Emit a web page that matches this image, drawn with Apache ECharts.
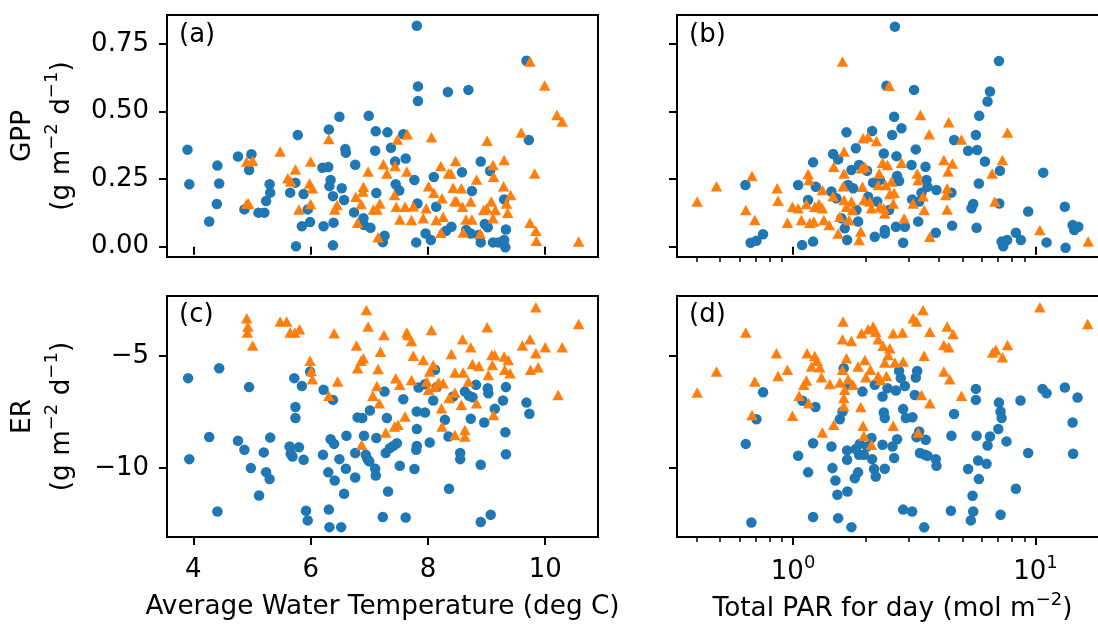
<!DOCTYPE html>
<html>
<head>
<meta charset="utf-8">
<script src="https://cdn.jsdelivr.net/npm/echarts@6/dist/echarts.min.js"></script>
<style>
html, body { margin: 0; padding: 0; background: #fff; }
#chart { width: 1098px; height: 627px; }
</style>
</head>
<body>
<div id="chart"></div>
<script>
// ---- data: [x, y] pairs per panel and group ----
// (a) GPP vs average water temperature
const tempGppBlue = [[3.90,0.359],[3.93,0.231],[4.27,0.093],[4.40,0.158],[4.41,0.300],[4.44,0.234],[4.76,0.334],[4.87,0.138],[4.95,0.284],[4.99,0.342],[5.11,0.126],[5.21,0.126],[5.24,0.169],[5.31,0.200],[5.30,0.231],[5.65,0.200],[5.74,0.237],[5.78,0.413],[5.75,0.002],[5.85,0.076],[5.88,0.195],[5.95,0.138],[5.99,0.091],[6.20,0.292],[6.30,0.295],[6.31,0.434],[6.34,0.247],[6.32,0.224],[6.38,0.187],[6.39,0.089],[6.22,0.076],[6.38,0.005],[6.49,0.481],[6.53,0.216],[6.57,0.173],[6.60,0.348],[6.59,0.361],[6.76,0.303],[6.74,0.127],[6.90,0.105],[6.91,0.080],[6.99,0.484],[7.02,0.070],[7.11,0.427],[7.10,0.355],[7.12,0.199],[7.23,0.017],[7.26,0.041],[7.31,0.423],[7.37,0.366],[7.44,0.315],[7.45,0.231],[7.51,0.208],[7.58,0.416],[7.62,0.326],[7.77,0.247],[7.80,0.016],[7.81,0.817],[7.83,0.593],[7.83,0.539],[7.82,0.160],[7.96,0.049],[8.05,0.025],[8.10,0.258],[8.14,0.148],[8.34,0.572],[8.31,0.059],[8.40,0.074],[8.58,0.275],[8.69,0.580],[8.75,0.206],[8.73,0.049],[8.90,0.315],[8.90,0.016],[8.97,0.084],[9.02,0.072],[9.06,0.280],[9.11,0.016],[9.20,0.016],[9.30,0.025],[9.33,0.064],[9.32,-0.002],[9.30,0.175],[9.68,0.688],[9.72,0.395],[8.65,0.062],[8.86,0.043]];
const tempGppOrange = [[4.91,0.315],[5.01,0.318],[4.91,0.160],[4.94,0.160],[5.48,0.352],[5.61,0.253],[5.66,0.241],[5.74,0.286],[5.80,0.138],[5.98,0.234],[6.00,0.315],[6.03,0.216],[6.00,0.158],[6.31,0.398],[6.41,0.138],[6.45,0.154],[6.77,0.185],[6.80,0.089],[6.86,0.158],[6.90,0.222],[6.98,0.278],[7.07,0.138],[7.15,0.035],[7.18,0.160],[7.24,0.305],[7.30,0.271],[7.44,0.299],[7.43,0.191],[7.48,0.397],[7.46,0.148],[7.52,0.101],[7.65,0.416],[7.64,0.278],[7.61,0.148],[7.72,0.099],[7.75,0.150],[7.92,0.105],[7.97,0.142],[8.01,0.224],[8.06,0.405],[8.10,0.200],[8.14,0.099],[8.22,0.052],[8.22,0.299],[8.24,0.179],[8.26,0.111],[8.35,0.271],[8.39,0.271],[8.43,0.218],[8.47,0.317],[8.46,0.169],[8.57,0.216],[8.59,0.148],[8.60,0.053],[8.65,0.101],[8.73,0.167],[8.75,0.101],[8.83,0.249],[8.89,0.049],[9.01,0.392],[9.00,0.142],[9.08,0.167],[9.11,0.302],[9.12,0.259],[9.11,0.105],[9.15,0.136],[9.30,0.321],[9.29,0.224],[9.34,0.160],[9.36,0.126],[9.41,0.191],[9.59,0.422],[9.74,0.685],[9.74,0.089],[9.82,0.271],[9.84,0.059],[9.85,0.022],[9.99,0.596],[10.20,0.487],[10.29,0.463],[10.57,0.019],[6.89,0.204],[7.13,0.138],[8.49,0.167],[8.95,0.136]];

// (b) GPP vs total daily PAR
const parGppBlue = [[0.636,0.228],[0.668,0.015],[0.706,0.022],[0.752,0.046],[1.049,0.228],[1.089,0.006],[1.153,0.173],[1.209,0.312],[1.209,0.019],[1.240,0.222],[1.439,0.204],[1.462,0.343],[1.509,0.179],[1.534,0.323],[1.582,0.105],[1.633,0.068],[1.660,0.423],[1.670,0.025],[1.686,0.228],[1.740,0.284],[1.769,0.216],[1.814,0.364],[1.825,0.136],[1.854,0.093],[1.872,0.302],[2.019,0.281],[2.039,0.185],[2.118,0.428],[2.138,0.237],[2.172,0.037],[2.222,0.167],[2.279,0.247],[2.366,0.345],[2.388,0.062],[2.388,0.049],[2.427,0.595],[2.489,0.136],[2.562,0.413],[2.630,0.814],[2.611,0.481],[2.668,0.335],[2.685,0.262],[2.736,0.243],[2.655,0.074],[2.800,0.438],[2.844,0.015],[2.891,0.074],[3.080,0.302],[3.097,0.175],[3.155,0.580],[3.206,0.360],[3.281,0.093],[3.311,0.167],[3.386,0.200],[3.517,0.296],[3.550,0.247],[3.583,0.222],[3.877,0.052],[3.902,0.210],[4.498,0.200],[4.529,0.078],[4.614,0.395],[5.271,0.355],[5.444,0.142],[5.532,0.158],[5.675,0.413],[5.714,0.070],[5.745,0.358],[5.838,0.234],[5.857,0.484],[6.182,0.315],[6.339,0.537],[6.486,0.574],[7.063,0.687],[7.128,0.281],[7.085,0.160],[7.244,0.019],[7.359,0.002],[7.638,0.025],[8.297,0.052],[8.697,0.025],[9.325,0.130],[10.76,0.274],[11.10,0.016],[13.21,0.148],[13.30,-0.004],[14.22,0.080],[14.44,0.062],[15.01,0.074]];
const parGppOrange = [[0.402,0.167],[0.483,0.224],[0.638,0.136],[0.677,0.262],[0.695,0.099],[0.859,0.216],[0.867,0.170],[0.948,0.089],[0.994,0.148],[1.049,0.142],[1.082,0.099],[1.135,0.158],[1.153,0.269],[1.164,0.247],[1.172,0.089],[1.217,0.093],[1.228,0.148],[1.279,0.158],[1.321,0.210],[1.321,0.142],[1.339,0.099],[1.409,0.080],[1.472,0.296],[1.534,0.049],[1.559,0.111],[1.599,0.685],[1.608,0.224],[1.623,0.352],[1.623,0.271],[1.623,0.173],[1.660,0.148],[1.703,0.099],[1.758,0.136],[1.872,0.025],[1.902,0.056],[1.916,0.290],[1.933,0.222],[1.945,0.401],[1.959,0.173],[1.977,0.296],[2.039,0.407],[2.072,0.167],[2.105,0.142],[2.208,0.391],[2.244,0.228],[2.265,0.271],[2.279,0.148],[2.338,0.311],[2.366,0.142],[2.388,0.123],[2.412,0.228],[2.451,0.302],[2.489,0.595],[2.506,0.195],[2.547,0.241],[2.588,0.160],[2.611,0.200],[2.800,0.311],[2.871,0.105],[3.127,0.160],[3.250,0.271],[3.281,0.247],[3.352,0.487],[3.436,0.187],[3.472,0.136],[3.642,0.416],[3.664,0.037],[4.187,0.321],[4.266,0.191],[4.319,0.216],[4.319,0.138],[4.358,0.278],[4.386,0.460],[4.543,0.308],[4.950,0.397],[6.622,0.271],[6.795,0.167],[7.305,0.321],[7.660,0.422],[10.42,0.062],[16.49,0.019],[1.462,0.187],[1.740,0.167]];

// (c) ER vs average water temperature
const tempErBlue = [[3.91,-5.99],[3.93,-9.60],[4.27,-8.61],[4.41,-11.93],[4.44,-5.55],[4.76,-8.78],[4.87,-9.18],[4.95,-6.39],[4.98,-10.00],[5.12,-11.22],[5.20,-9.30],[5.24,-10.18],[5.30,-10.49],[5.31,-8.64],[5.64,-9.04],[5.66,-9.36],[5.69,-9.48],[5.72,-5.99],[5.74,-7.28],[5.74,-7.77],[5.80,-9.07],[5.85,-6.34],[5.88,-9.63],[5.92,-11.90],[5.95,-12.33],[5.99,-5.70],[6.21,-9.41],[6.22,-6.51],[6.30,-10.19],[6.31,-11.85],[6.32,-12.63],[6.34,-8.71],[6.38,-6.96],[6.40,-8.92],[6.41,-10.55],[6.49,-9.60],[6.52,-12.63],[6.57,-11.14],[6.60,-10.03],[6.61,-8.56],[6.76,-9.33],[6.76,-10.42],[6.80,-7.74],[6.88,-7.77],[6.91,-8.56],[6.94,-9.41],[6.97,-9.60],[7.00,-9.70],[7.01,-7.43],[7.10,-10.03],[7.11,-10.33],[7.12,-8.66],[7.23,-12.18],[7.26,-6.59],[7.30,-7.77],[7.28,-9.33],[7.32,-11.04],[7.35,-9.11],[7.41,-9.01],[7.47,-8.89],[7.52,-9.90],[7.58,-6.93],[7.62,-12.20],[7.77,-10.04],[7.80,-9.18],[7.81,-9.01],[7.81,-8.26],[7.81,-7.48],[7.84,-6.41],[7.95,-7.52],[8.03,-8.86],[8.09,-6.99],[8.12,-5.62],[8.15,-6.39],[8.29,-7.85],[8.35,-8.59],[8.36,-10.92],[8.43,-6.81],[8.55,-9.33],[8.55,-9.60],[8.63,-6.59],[8.70,-6.78],[8.73,-7.80],[8.76,-6.84],[8.82,-6.29],[8.90,-12.40],[8.90,-9.85],[8.96,-7.97],[9.02,-6.44],[9.03,-6.66],[9.07,-12.08],[9.14,-7.36],[9.28,-6.99],[9.33,-6.39],[9.32,-8.40],[9.33,-9.38],[9.68,-7.08],[9.73,-7.58],[7.95,-6.26]];
const tempErOrange = [[4.91,-3.32],[4.93,-3.69],[4.92,-3.96],[5.01,-4.54],[5.48,-3.47],[5.59,-3.47],[5.65,-3.96],[5.73,-3.96],[5.81,-3.81],[5.99,-5.21],[6.01,-5.67],[6.03,-6.04],[6.31,-6.78],[6.40,-3.99],[6.46,-6.14],[6.78,-4.54],[6.80,-5.55],[6.86,-5.21],[6.90,-5.10],[6.95,-2.95],[6.98,-3.69],[6.87,-8.96],[7.06,-6.78],[7.13,-6.34],[7.15,-5.58],[7.17,-7.11],[7.19,-4.81],[7.25,-4.07],[7.28,-8.41],[7.43,-8.15],[7.45,-5.99],[7.49,-8.07],[7.52,-6.29],[7.61,-7.70],[7.64,-3.96],[7.66,-4.07],[7.72,-4.33],[7.72,-6.07],[7.75,-4.99],[7.92,-5.18],[7.98,-6.14],[8.01,-6.51],[8.03,-5.70],[8.06,-3.84],[8.09,-5.40],[8.12,-6.37],[8.18,-6.19],[8.23,-7.33],[8.24,-8.15],[8.26,-6.22],[8.36,-6.88],[8.40,-4.91],[8.46,-5.74],[8.46,-6.63],[8.46,-8.52],[8.57,-7.18],[8.59,-4.26],[8.60,-5.74],[8.63,-8.30],[8.63,-8.59],[8.69,-6.14],[8.73,-4.61],[8.76,-5.36],[8.83,-7.11],[8.87,-5.45],[9.01,-3.72],[9.03,-5.85],[9.09,-4.96],[9.10,-5.40],[9.12,-7.63],[9.14,-4.96],[9.30,-5.03],[9.31,-5.62],[9.37,-5.18],[9.40,-5.77],[9.61,-4.54],[9.74,-4.26],[9.75,-5.62],[9.84,-2.83],[9.84,-4.88],[9.88,-5.50],[10.00,-4.61],[10.22,-6.74],[10.29,-4.61],[10.57,-3.58]];

// (d) ER vs total daily PAR
const parErBlue = [[0.638,-8.92],[0.673,-12.42],[0.706,-7.82],[0.752,-6.62],[1.049,-9.45],[1.093,-7.00],[1.153,-10.19],[1.209,-8.89],[1.209,-12.18],[1.236,-7.28],[1.439,-9.04],[1.453,-10.00],[1.495,-10.55],[1.523,-11.19],[1.534,-12.23],[1.559,-7.82],[1.599,-7.48],[1.618,-5.55],[1.670,-9.21],[1.670,-9.63],[1.675,-11.04],[1.703,-6.29],[1.740,-12.63],[1.796,-10.45],[1.814,-9.15],[1.854,-10.19],[1.872,-9.41],[1.884,-8.92],[1.933,-6.59],[1.959,-9.41],[2.019,-9.04],[2.105,-8.66],[2.118,-9.60],[2.158,-10.04],[2.172,-6.29],[2.193,-10.37],[2.338,-6.81],[2.338,-8.96],[2.366,-7.52],[2.388,-7.77],[2.388,-10.03],[2.451,-6.44],[2.570,-9.04],[2.611,-9.55],[2.655,-6.54],[2.685,-8.71],[2.736,-5.67],[2.780,-5.99],[2.844,-7.37],[2.844,-11.85],[2.891,-6.34],[2.918,-7.77],[3.097,-11.93],[3.106,-7.73],[3.178,-6.74],[3.206,-5.96],[3.228,-8.62],[3.250,-5.67],[3.311,-8.37],[3.334,-9.33],[3.472,-12.64],[3.493,-9.41],[3.525,-8.74],[3.583,-9.45],[3.877,-9.60],[3.902,-9.90],[4.476,-11.90],[4.498,-8.56],[4.614,-7.59],[5.271,-10.04],[5.408,-12.33],[5.496,-11.23],[5.532,-11.93],[5.675,-6.47],[5.675,-6.96],[5.714,-8.56],[5.799,-9.66],[5.838,-10.49],[6.281,-9.81],[6.339,-8.99],[6.486,-8.59],[7.020,-8.26],[7.063,-7.08],[7.174,-7.48],[7.244,-7.77],[7.174,-12.08],[7.589,-8.81],[8.297,-10.92],[8.668,-6.99],[9.325,-9.33],[10.69,-6.47],[11.10,-6.66],[13.21,-6.41],[14.22,-7.97],[14.29,-9.36],[14.90,-6.85]];
const parErOrange = [[0.402,-6.63],[0.483,-5.70],[0.638,-3.96],[0.677,-7.63],[0.695,-6.14],[0.854,-4.88],[0.867,-5.89],[0.948,-5.62],[0.994,-7.67],[1.059,-6.78],[1.106,-6.29],[1.135,-6.10],[1.143,-4.88],[1.160,-7.11],[1.191,-5.47],[1.228,-5.00],[1.256,-5.22],[1.288,-5.50],[1.309,-5.95],[1.321,-8.41],[1.417,-6.25],[1.472,-8.07],[1.559,-6.19],[1.599,-4.26],[1.599,-5.62],[1.608,-3.47],[1.618,-6.88],[1.618,-7.23],[1.633,-6.51],[1.660,-5.10],[1.686,-6.04],[1.740,-4.33],[1.769,-6.29],[1.854,-5.47],[1.902,-7.28],[1.916,-3.99],[1.945,-8.11],[1.959,-8.56],[1.977,-5.18],[1.995,-5.95],[2.039,-3.81],[2.084,-5.62],[2.105,-8.96],[2.138,-3.69],[2.193,-3.92],[2.244,-4.26],[2.244,-5.89],[2.293,-6.07],[2.350,-4.55],[2.388,-5.29],[2.427,-5.89],[2.466,-4.96],[2.506,-4.66],[2.588,-8.11],[2.588,-3.99],[2.630,-5.29],[2.826,-3.96],[2.844,-5.25],[3.127,-3.32],[3.228,-3.47],[3.281,-8.41],[3.386,-6.74],[3.436,-2.95],[3.472,-4.99],[3.664,-3.92],[3.664,-7.11],[4.187,-4.51],[4.187,-5.70],[4.319,-3.69],[4.386,-4.61],[4.427,-6.04],[4.571,-4.02],[4.950,-6.78],[6.652,-4.85],[6.857,-4.73],[7.305,-5.06],[7.660,-4.51],[10.42,-2.83],[16.41,-3.58]];

// axis ticks
const tempTicks = [4, 6, 8, 10];
const parMajorTicks = [1, 10];
const parMinorTicks = [0.4, 0.5, 0.6, 0.7, 0.8, 0.9, 2, 3, 4, 5, 6, 7, 8, 9];
const gppTicks = [0, 0.25, 0.5, 0.75];
const erTicks = [-10, -5];
const panelLabels = ['(a)', '(b)', '(c)', '(d)'];

// ---- layout / style ----
const FONT = 'DejaVu Sans';
const FS = 26;
const NAME_FS = 26.3;
const BLUE = '#1f77b4';
const ORANGE = '#ff7f0e';
const TEMP_RANGE = [3.55, 10.9];
const PAR_RANGE = [0.332, 19.9];
const GPP_RANGE = [-0.038, 0.857];
const ER_RANGE = [-13.07, -2.33];

const grids = [
  { left: 167, top: 15, width: 431, height: 242 },
  { left: 677, top: 15, width: 431, height: 242 },
  { left: 167, top: 296, width: 431, height: 241 },
  { left: 677, top: 296, width: 431, height: 241 }
].map(g => Object.assign({
  show: true, borderColor: '#000', borderWidth: 2, backgroundColor: 'transparent',
  containLabel: false, outerBoundsMode: 'none'
}, g));

const tickLabelStyle = { color: '#000', fontFamily: FONT, fontSize: FS };
// power-of-ten tick labels: base plus raised exponent
const powRich = {
  t: { fontFamily: FONT, fontSize: FS, color: '#000', lineHeight: 36 },
  s: { fontFamily: FONT, fontSize: 18, color: '#000', lineHeight: 18, verticalAlign: 'top' }
};
const nameRich = {
  t: { fontFamily: FONT, fontSize: NAME_FS, color: '#000', lineHeight: 36 },
  s: { fontFamily: FONT, fontSize: 18, color: '#000', lineHeight: 20, verticalAlign: 'top' }
};

function baseAxis(extra) {
  return Object.assign({
    axisLine: { show: false },
    splitLine: { show: false },
    nameMoveOverlap: false
  }, extra);
}
function majorTick(values) {
  return { show: true, inside: false, length: 8, customValues: values, lineStyle: { color: '#000', width: 2 } };
}
function minorTickStyle(values) {
  return { show: true, inside: false, length: 5, customValues: values, lineStyle: { color: '#000', width: 1.5 } };
}

const xAxis = [
  // (a)
  baseAxis({ gridIndex: 0, type: 'value', min: TEMP_RANGE[0], max: TEMP_RANGE[1],
    axisTick: majorTick(tempTicks), axisLabel: { show: false } }),
  // (b) major + minor
  baseAxis({ gridIndex: 1, type: 'log', logBase: 10, min: PAR_RANGE[0], max: PAR_RANGE[1], position: 'bottom',
    axisTick: majorTick(parMajorTicks), axisLabel: { show: false } }),
  baseAxis({ gridIndex: 1, type: 'log', logBase: 10, min: PAR_RANGE[0], max: PAR_RANGE[1], position: 'bottom',
    axisTick: minorTickStyle(parMinorTicks), axisLabel: { show: false } }),
  // (c)
  baseAxis({ gridIndex: 2, type: 'value', min: TEMP_RANGE[0], max: TEMP_RANGE[1],
    axisTick: majorTick(tempTicks),
    axisLabel: Object.assign({ show: true, margin: 20, customValues: tempTicks, formatter: v => String(v) }, tickLabelStyle),
    name: 'Average Water Temperature (deg C)', nameLocation: 'middle', nameGap: 57,
    nameTextStyle: { color: '#000', fontFamily: FONT, fontSize: NAME_FS } }),
  // (d) major + minor
  baseAxis({ gridIndex: 3, type: 'log', logBase: 10, min: PAR_RANGE[0], max: PAR_RANGE[1], position: 'bottom',
    axisTick: majorTick(parMajorTicks),
    axisLabel: { show: true, margin: 17, customValues: parMajorTicks,
      formatter: v => '{t|10}{s|' + Math.round(Math.log10(v)) + '}', rich: powRich },
    name: '{t|Total PAR for day (mol m}{s|\u22122}{t|)}', nameLocation: 'middle', nameGap: 54,
    nameTextStyle: { rich: nameRich } }),
  baseAxis({ gridIndex: 3, type: 'log', logBase: 10, min: PAR_RANGE[0], max: PAR_RANGE[1], position: 'bottom',
    axisTick: minorTickStyle(parMinorTicks), axisLabel: { show: false } })
];

const unitRich = {
  t: { fontFamily: FONT, fontSize: NAME_FS, color: '#000', lineHeight: 39 },
  s: { fontFamily: FONT, fontSize: 18, color: '#000', lineHeight: 24, verticalAlign: 'top' }
};
function unitName(q) {
  return '{t|' + q + '}\n{t|(g m}{s|\u22122}{t| d}{s|\u22121}{t|)}';
}

const yAxis = [
  baseAxis({ gridIndex: 0, type: 'value', min: GPP_RANGE[0], max: GPP_RANGE[1],
    axisTick: majorTick(gppTicks),
    axisLabel: Object.assign({ show: true, margin: 18, customValues: gppTicks, formatter: v => v.toFixed(2) }, tickLabelStyle),
    name: unitName('GPP'), nameLocation: 'middle', nameGap: 85, nameTextStyle: { rich: unitRich, align: 'center' } }),
  baseAxis({ gridIndex: 1, type: 'value', min: GPP_RANGE[0], max: GPP_RANGE[1],
    axisTick: majorTick(gppTicks), axisLabel: { show: false } }),
  baseAxis({ gridIndex: 2, type: 'value', min: ER_RANGE[0], max: ER_RANGE[1],
    axisTick: majorTick(erTicks),
    axisLabel: Object.assign({ show: true, margin: 18, customValues: erTicks,
      formatter: v => (v < 0 ? '\u2212' : '') + Math.abs(v) }, tickLabelStyle),
    name: unitName('ER'), nameLocation: 'middle', nameGap: 85, nameTextStyle: { rich: unitRich, align: 'center' } }),
  baseAxis({ gridIndex: 3, type: 'value', min: ER_RANGE[0], max: ER_RANGE[1],
    axisTick: majorTick(erTicks), axisLabel: { show: false } })
];

function scatter(data, xi, yi, isTri) {
  return {
    type: 'scatter', xAxisIndex: xi, yAxisIndex: yi, data: data,
    symbol: isTri ? 'triangle' : 'circle',
    symbolSize: isTri ? [11.5, 10.5] : 10.5,
    itemStyle: { color: isTri ? ORANGE : BLUE, opacity: 1 },
    emphasis: { disabled: true },
    silent: true, animation: false, z: isTri ? 3 : 2
  };
}

const series = [
  scatter(tempGppBlue, 0, 0, false), scatter(tempGppOrange, 0, 0, true),
  scatter(parGppBlue, 1, 1, false), scatter(parGppOrange, 1, 1, true),
  scatter(tempErBlue, 3, 2, false), scatter(tempErOrange, 3, 2, true),
  scatter(parErBlue, 4, 3, false), scatter(parErOrange, 4, 3, true)
];

const labelPos = [[179, 22], [689, 22], [179, 302], [689, 302]];
const graphic = panelLabels.map((t, i) => ({
  type: 'text', left: labelPos[i][0], top: labelPos[i][1], z: 100,
  style: { text: t, font: FS + 'px "' + FONT + '"', fill: '#000' }
}));

const chart = echarts.init(document.getElementById('chart'), null, { renderer: 'canvas' });
chart.setOption({
  animation: false,
  backgroundColor: '#fff',
  textStyle: { fontFamily: FONT },
  grid: grids,
  xAxis: xAxis,
  yAxis: yAxis,
  series: series,
  graphic: graphic
});
</script>
</body>
</html>
